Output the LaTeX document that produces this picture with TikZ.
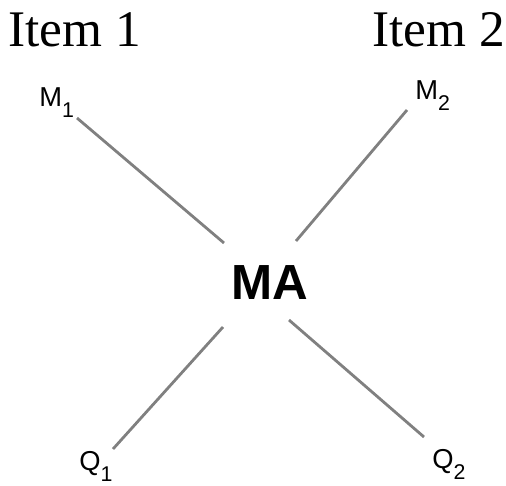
\documentclass[tikz,border=0pt]{standalone}
\usepackage{fontspec}
\setmainfont{Liberation Serif}
\newfontfamily\labelfont{Liberation Sans}
\definecolor{linegray}{RGB}{128,128,128}
\tikzset{
  itemlabel/.style={anchor=base west, inner sep=0pt, font=\fontsize{38.5}{38.5}\selectfont},
  varlabel/.style={anchor=base west, inner sep=0pt, font=\labelfont\fontsize{20.5}{20.5}\selectfont},
  link/.style={line width=2.1pt, color=linegray}
}
\newcommand{\sub}[1]{\raisebox{-8.5pt}{\fontsize{16}{16}\selectfont #1}}
\begin{document}
\begin{tikzpicture}[x=0.75pt, y=-0.75pt]
    \useasboundingbox (0,0) rectangle (506,485);
    % headings
    \node[itemlabel] (item1) at (8,46) {Item 1};
    \node[itemlabel] (item2) at (372,46) {Item 2};
    % centre
    \node[anchor=base, inner sep=0pt, font=\labelfont\bfseries\fontsize{37}{37}\selectfont] (ma) at (270,299) {MA};
    % end labels
    \node[varlabel] (m1) at (39,106) {M\sub{1}};
    \node[varlabel] (m2) at (415,99) {M\sub{2}};
    \node[varlabel] (q1) at (79,470) {Q\sub{1}};
    \node[varlabel] (q2) at (432,468) {Q\sub{2}};
    % spokes
    \coordinate (m1end) at (77,118);
    \coordinate (m2end) at (407,110);
    \coordinate (q1end) at (113,449);
    \coordinate (q2end) at (424,437);
    \coordinate (ma1) at (224,243);
    \coordinate (ma2) at (296,241);
    \coordinate (ma3) at (223,327);
    \coordinate (ma4) at (289,320);
    \draw[link] (m1end) -- (ma1);
    \draw[link] (m2end) -- (ma2);
    \draw[link] (ma3) -- (q1end);
    \draw[link] (ma4) -- (q2end);
\end{tikzpicture}
\end{document}
